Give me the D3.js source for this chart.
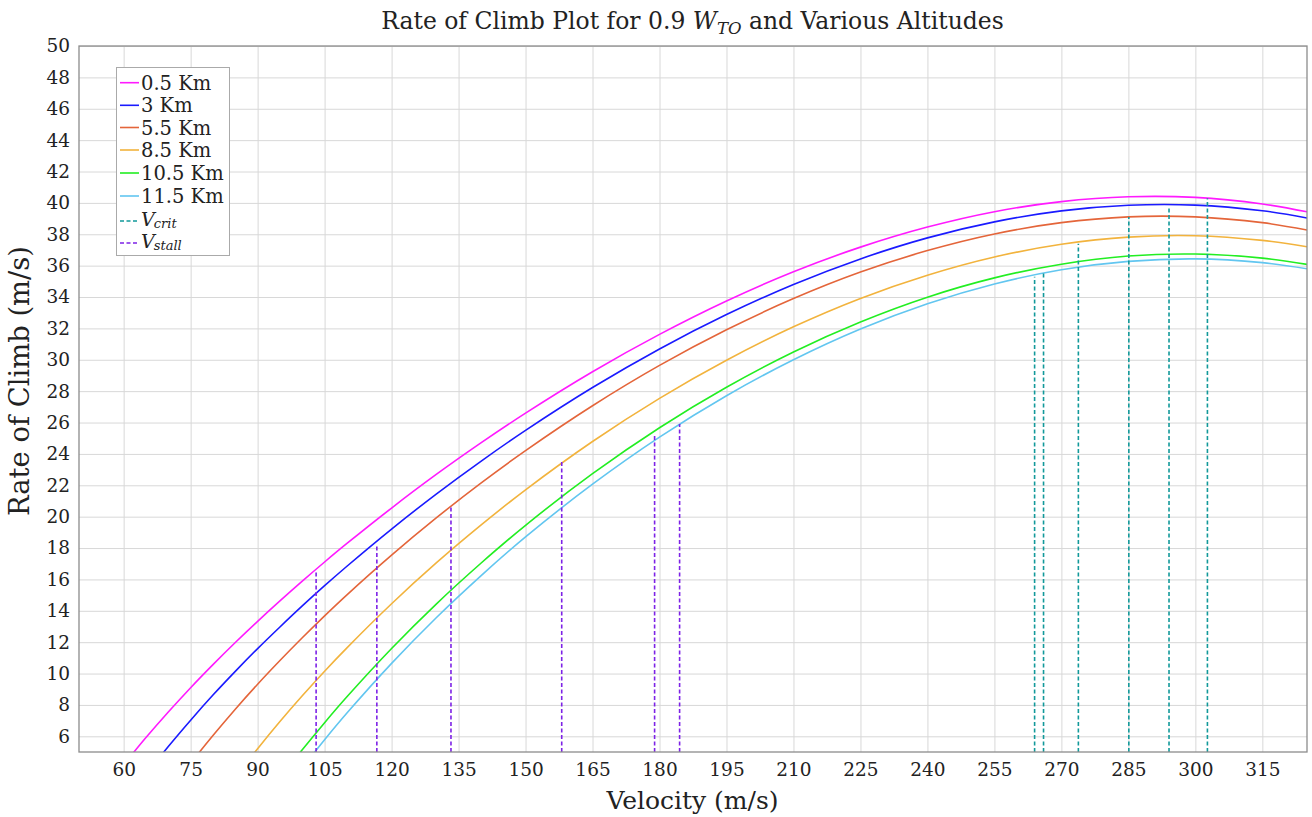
<!DOCTYPE html>
<html><head><meta charset="utf-8">
<script src="https://cdn.jsdelivr.net/npm/d3@7"></script>
<style>
body{margin:0;background:#fff;}
text{font-family:"DejaVu Serif",serif;fill:#222;}
</style></head>
<body><svg id="c" width="1312" height="817"></svg>
<script>
// ---- data ----
const velocity = [60,65,70,75,80,85,90,95,100,105,110,120,130,140,150,165,180,195,210,225,240,255,270,285,300,315,325];
const rc_05  = [4.19,5.92,7.55,9.10,10.57,11.98,13.33,14.63,15.89,17.11,18.29,20.55,22.69,24.70,26.60,29.24,31.62,33.75,35.61,37.18,38.46,39.44,40.08,40.39,40.35,39.93,39.43];
const rc_3   = [null,3.56,5.35,7.03,8.63,10.14,11.59,12.97,14.31,15.60,16.84,19.21,21.44,23.53,25.50,28.23,30.69,32.88,34.80,36.43,37.77,38.79,39.49,39.85,39.86,39.50,39.04];
const rc_55  = [null,null,2.39,4.28,6.05,7.73,9.32,10.83,12.28,13.68,15.02,17.55,19.92,22.14,24.21,27.07,29.64,31.91,33.90,35.59,36.96,38.02,38.74,39.11,39.11,38.74,38.27];
const rc_85  = [null,null,null,null,null,3.39,5.21,6.94,8.58,10.15,11.64,14.45,17.05,19.46,21.71,24.79,27.54,29.97,32.10,33.91,35.39,36.55,37.36,37.82,37.91,37.61,37.20];
const rc_105 = [null,null,null,null,null,null,null,3.31,5.14,6.87,8.52,11.60,14.43,17.03,19.45,22.74,25.67,28.25,30.50,32.41,33.99,35.22,36.09,36.61,36.74,36.48,36.08];
const rc_115 = [null,null,null,null,null,null,null,null,3.99,5.78,7.48,10.65,13.56,16.23,18.71,22.07,25.07,27.71,30.00,31.96,33.57,34.83,35.74,36.27,36.43,36.19,35.80];
const seriesLabels = ["0.5 Km","3 Km","5.5 Km","8.5 Km","10.5 Km","11.5 Km"];
const seriesColors = ["#ff1aff","#1a1aff","#e4653a","#f2b33d","#22ee22","#62c6f0"];
const vStall = [103.1,116.7,133.3,158.1,178.9,184.5];
const vStallTop = [16.5,18.2,20.7,23.5,25.3,25.9];
const vCrit = [302.7,294.1,285.1,273.8,266.0,264.0];
const vCritTop = [40.3,39.8,39.1,37.4,35.6,35.3];
const xTickValues = [60,75,90,105,120,135,150,165,180,195,210,225,240,255,270,285,300,315];
const yTickValues = [6,8,10,12,14,16,18,20,22,24,26,28,30,32,34,36,38,40,42,44,46,48,50];

const series = [rc_05,rc_3,rc_55,rc_85,rc_105,rc_115];

// ---- layout ----
const W=1312,H=817, m={l:79,r:5,t:46,b:65};
const svg=d3.select("#c");
const x=d3.scaleLinear().domain([50,325]).range([m.l,W-m.r]);
const y=d3.scaleLinear().domain([5,50]).range([H-m.b,m.t]);

svg.append("defs").append("clipPath").attr("id","clip")
  .append("rect").attr("x",m.l).attr("y",m.t).attr("width",W-m.l-m.r).attr("height",H-m.t-m.b);

// grid + ticks
const gx=svg.append("g").attr("transform",`translate(0,${H-m.b})`)
  .call(d3.axisBottom(x).tickValues(xTickValues).tickSize(-(H-m.t-m.b)).tickPadding(11).tickFormat(d3.format("d")));
const gy=svg.append("g").attr("transform",`translate(${m.l},0)`)
  .call(d3.axisLeft(y).tickValues(yTickValues).tickSize(-(W-m.l-m.r)).tickPadding(9).tickFormat(d3.format("d")));
[gx,gy].forEach(g=>{
  g.select(".domain").remove();
  g.selectAll(".tick line").attr("stroke","#d8d8d8").attr("stroke-width",1);
  g.selectAll(".tick text").style("font-family","DejaVu Serif").style("font-size","18.5px").attr("fill","#222");
});

const plot=svg.append("g").attr("clip-path","url(#clip)");
const line=d3.line().defined(d=>d[1]!=null).x(d=>x(d[0])).y(d=>y(d[1])).curve(d3.curveCatmullRom.alpha(0.5));
series.forEach((s,i)=>{
  plot.append("path").datum(velocity.map((v,j)=>[v,s[j]]))
    .attr("d",line).attr("fill","none").attr("stroke",seriesColors[i]).attr("stroke-width",1.6);
});
// vertical lines
const critColor="#12999a", stallColor="#7d22e6";
vCrit.forEach((v,i)=>{
  plot.append("line").attr("x1",x(v)).attr("x2",x(v)).attr("y1",y(5)).attr("y2",y(vCritTop[i]))
   .attr("stroke",critColor).attr("stroke-width",1.6).attr("stroke-dasharray","4,2.5");
});
vStall.forEach((v,i)=>{
  plot.append("line").attr("x1",x(v)).attr("x2",x(v)).attr("y1",y(5)).attr("y2",y(vStallTop[i]))
   .attr("stroke",stallColor).attr("stroke-width",1.6).attr("stroke-dasharray","4,2.5");
});

// frame
svg.append("rect").attr("x",m.l).attr("y",m.t).attr("width",W-m.l-m.r).attr("height",H-m.t-m.b)
  .attr("fill","none").attr("stroke","#8c8c8c").attr("stroke-width",1.3);

// legend
const lg=svg.append("g");
lg.append("rect").attr("x",116.5).attr("y",67.5).attr("width",113).attr("height",188)
  .attr("fill","#fff").attr("stroke","#aaa").attr("stroke-width",1);
const rowsY=[82.7,105.3,127.5,150,173,196,221,243];
seriesLabels.forEach((t,i)=>{
  lg.append("line").attr("x1",120).attr("x2",139).attr("y1",rowsY[i]).attr("y2",rowsY[i])
    .attr("stroke",seriesColors[i]).attr("stroke-width",1.6);
  lg.append("text").attr("x",141).attr("y",rowsY[i]+7).style("font-size","19.5px").text(t);
});
[["crit",critColor],["stall",stallColor]].forEach(([sub,c],k)=>{
  const yy=rowsY[6+k];
  lg.append("line").attr("x1",120).attr("x2",139).attr("y1",yy).attr("y2",yy)
    .attr("stroke",c).attr("stroke-width",1.6).attr("stroke-dasharray","4,2.5");
  const t=lg.append("text").attr("x",141).attr("y",yy+5).style("font-style","italic");
  t.append("tspan").style("font-size","19px").text("V");
  t.append("tspan").attr("dy",2).attr("dx",-1).style("font-size","13px").text(sub);
});

// helper: scale a text so that its width matches the reference
function fitWidth(sel, target){
  const w=sel.node().getBBox().width;
  const r=target/w;
  sel.selectAll("tspan").each(function(){
    const t=d3.select(this); const fs=parseFloat(t.style("font-size"));
    t.style("font-size",(fs*r)+"px");
    const dy=t.attr("dy"); if(dy!=null) t.attr("dy",parseFloat(dy)*r);
  });
  if(sel.selectAll("tspan").empty()){
    const fs=parseFloat(sel.style("font-size")); sel.style("font-size",(fs*r)+"px");
  }
}

// title
const title=svg.append("text").attr("x",692.5).attr("y",29).attr("text-anchor","middle");
title.append("tspan").style("font-size","22px").text("Rate of Climb Plot for 0.9 ");
title.append("tspan").style("font-size","22px").style("font-style","italic").text("W");
title.append("tspan").attr("dy",5).style("font-style","italic").style("font-size","15.5px").text("TO");
title.append("tspan").attr("dy",-5).style("font-size","22px").text(" and Various Altitudes");
fitWidth(title,623);

// axis labels
svg.append("text").attr("x",692.5).attr("y",809).attr("text-anchor","middle").style("font-size","25px").text("Velocity (m/s)");
const yl=svg.append("text").attr("transform","translate(29,381) rotate(-90)").attr("text-anchor","middle").style("font-size","24px").text("Rate of Climb (m/s)");
fitWidth(yl,270);
</script></body></html>
